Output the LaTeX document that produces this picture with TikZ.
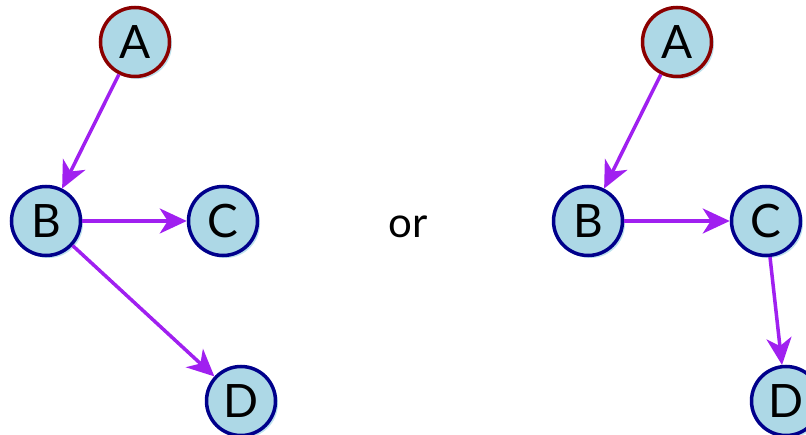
\documentclass[tikz,border=0pt]{standalone}
\usepackage{fontspec}
\setmainfont{Lato}
\usetikzlibrary{arrows.meta,shadows}
\definecolor{nodefill}{RGB}{173,216,230}
\definecolor{nodeshade}{RGB}{190,226,238}
\definecolor{edgeline}{RGB}{0,0,139}
\definecolor{rootline}{RGB}{139,0,0}
\definecolor{arrowcol}{RGB}{160,32,240}
\newcommand{\vlabel}[1]{\raisebox{-3pt}{#1}}
\tikzset{
  vertex/.style={circle, draw=edgeline, line width=3.5pt, fill=nodefill,
    minimum size=69pt, inner sep=0pt, font=\fontsize{46}{46}\selectfont,
    drop shadow={shadow xshift=2.5pt, shadow yshift=-2.5pt, fill=nodeshade, opacity=1}},
  rootvertex/.style={vertex, draw=rootline},
  link/.style={draw=arrowcol, line width=3.5pt,
    -{Stealth[length=27pt, width=25pt, inset=8pt]}}
}
\begin{document}
\begin{tikzpicture}[x=1pt, y=-1pt]
  \useasboundingbox (0,0) rectangle (806,435);
  % first tree: B has two children
  \node[rootvertex] (a1) at (135,42) {\vlabel{A}};
  \node[vertex] (b1) at (46,221) {\vlabel{B}};
  \node[vertex] (c1) at (223,221) {\vlabel{C}};
  \node[vertex] (d1) at (241,401) {\vlabel{D}};
  \draw[link] (a1) -- (b1);
  \draw[link] (b1) -- (c1);
  \draw[link] (b1) -- (d1);
  % separator
  \node[font=\fontsize{42}{42}\selectfont] (or) at (408,227) {or};
  % second tree: a chain
  \node[rootvertex] (a2) at (677,42) {\vlabel{A}};
  \node[vertex] (b2) at (588,221) {\vlabel{B}};
  \node[vertex] (c2) at (766,221) {\vlabel{C}};
  \node[vertex] (d2) at (786,401) {\vlabel{D}};
  \draw[link] (a2) -- (b2);
  \draw[link] (b2) -- (c2);
  \draw[link] (c2) -- (d2);
\end{tikzpicture}
\end{document}
